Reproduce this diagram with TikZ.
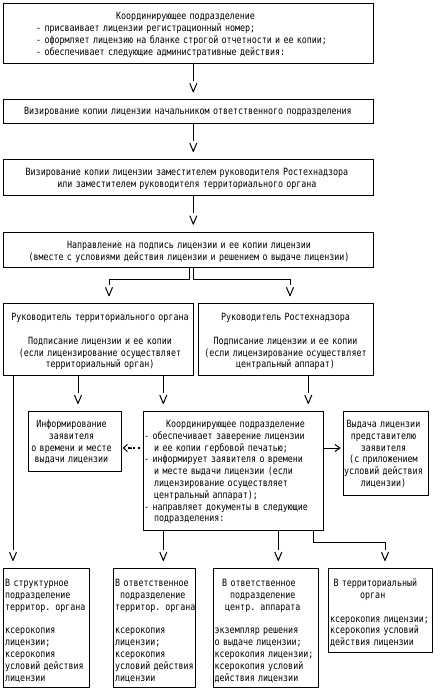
\documentclass[tikz,border=0pt]{standalone}
\usepackage{fontspec}
\newfontfamily\pxfont[FakeStretch=0.833]{DejaVu Sans Mono}
\usetikzlibrary{arrows.meta}
\pgfdeclarearrow{
  name = GapV,
  parameters = {\the\pgfarrowlength,\the\pgfarrowwidth},
  setup code = {
    \pgfarrowssettipend{0pt}
    \pgfarrowssetbackend{-\pgfarrowlength}
    \pgfarrowssetlineend{\dimexpr-\pgfarrowlength-2.5pt\relax}
    \pgfarrowssavethe\pgfarrowlength
    \pgfarrowssavethe\pgfarrowwidth
  },
  drawing code = {
    \pgfsetroundjoin
    \pgfsetbuttcap
    \pgfsetdash{}{0pt}
    \pgfpathmoveto{\pgfqpoint{-\pgfarrowlength}{.5\pgfarrowwidth}}
    \pgfpathlineto{\pgfpointorigin}
    \pgfpathlineto{\pgfqpoint{-\pgfarrowlength}{-.5\pgfarrowwidth}}
    \pgfusepathqstroke
  },
  defaults = {length=8.5pt, width=7pt}
}
\begin{document}
\begin{tikzpicture}[x=1pt,y=-1pt,
  box/.style={draw, line width=1pt, inner sep=0pt, anchor=north west},
  txt/.style={font=\pxfont\fontsize{10pt}{11.8pt}\selectfont, inner sep=0pt},
  arr/.style={draw, line width=1pt, -{GapV[length=8.5pt,width=7pt]},
    shorten >=7.5pt},
  dotarr/.style={draw, line width=1.5pt, dash pattern=on 1.5pt off 3.5pt,
    -{Butt Cap[sep=2pt]Straight Barb[length=4pt,width=7pt,line width=1pt]},
    shorten <=3.5pt, shorten >=1pt},
  rarr/.style={draw, line width=1pt,
    -{Straight Barb[length=5pt,width=7pt,line width=1pt]},
    shorten >=2.5pt}]
\fill[white] (0,0) rectangle (442,697);
\useasboundingbox (0,0) rectangle (442,697);

% boxes
\node[box, minimum width=370pt, minimum height=60pt] (b1) at (3.3,3.3) {};
\node[box, minimum width=370pt, minimum height=24pt] (b2) at (3.3,99.3) {};
\node[box, minimum width=370pt, minimum height=36pt] (b3) at (3.3,159) {};
\node[box, minimum width=370pt, minimum height=35pt] (b4) at (3.3,231.7) {};
\node[box, minimum width=190pt, minimum height=71.7pt] (b5) at (3.3,303.3) {};
\node[box, minimum width=175pt, minimum height=71.7pt] (b6) at (198.3,303.3) {};
\node[box, minimum width=92.4pt, minimum height=60pt] (inf) at (28.3,411) {};
\node[box, minimum width=180pt, minimum height=119pt] (cb) at (143.3,411) {};
\node[box, minimum width=85pt, minimum height=84pt] (rb) at (343.3,411) {};
\node[box, minimum width=85.4pt, minimum height=119pt] (A) at (3.3,568) {};
\node[box, minimum width=81.7pt, minimum height=119pt] (B) at (113.3,568) {};
\node[box, minimum width=105pt, minimum height=119pt] (C) at (213.3,568) {};
\node[box, minimum width=103.4pt, minimum height=84pt] (D) at (328.3,568) {};

% texts
\node[txt, anchor=north west, text width=335pt, align=left] (t1) at (36,10.5)
 {\rule{0pt}{9pt}\hspace*{80pt}Координирующее подразделение\\
  - присваивает лицензии регистрационный номер;\\
  - оформляет лицензию на бланке строгой отчетности и ее копии;\\
  - обеспечивает следующие административные действия:};
\node[txt, anchor=north, text width=360pt, align=center] (t2) at (188,105.3)
 {\rule{0pt}{9pt}Визирование копии лицензии начальником ответственного подразделения};
\node[txt, anchor=north, text width=360pt, align=center] (t3) at (187,166.6)
 {\rule{0pt}{9pt}Визирование копии лицензии заместителем руководителя Ростехнадзора\\
  или заместителем руководителя территориального органа};
\node[txt, anchor=north, text width=360pt, align=center] (t4) at (189,239)
 {\rule{0pt}{9pt}Направление на подпись лицензии и ее копии лицензии\\
  (вместе с условиями действия лицензии и решением о выдаче лицензии)};
\node[txt, anchor=north, text width=185pt, align=center] (t5) at (100,311.5)
 {\rule{0pt}{9pt}Руководитель территориального органа\\ \mbox{}\\
  Подписание лицензии и ее копии\\
  (если лицензирование осуществляет\\
  территориальный орган)};
\node[txt, anchor=north, text width=172pt, align=center] (t6) at (285.5,311.5)
 {\rule{0pt}{9pt}Руководитель Ростехнадзора\\ \mbox{}\\
  Подписание лицензии и ее копии\\
  (если лицензирование осуществляет\\
  центральный аппарат)};
\node[txt, anchor=north, text width=90pt, align=center] (t7) at (71.5,418.3)
 {\rule{0pt}{9pt}Информирование\\ заявителя\\ о времени и месте\\ выдачи лицензии};
\node[txt, anchor=north west, text width=178pt, align=left] (t8) at (144,418.3)
 {\rule{0pt}{9pt}\hspace*{22pt}Координирующее подразделение\\
  - обеспечивает заверение лицензии\\
  \hspace*{10pt}и ее копии гербовой печатью;\\
  - информирует заявителя о времени\\
  \hspace*{10pt}и месте выдачи лицензии (если\\
  \hspace*{10pt}лицензирование осуществляет\\
  \hspace*{10pt}центральный аппарат);\\
  - направляет документы в следующие\\
  \hspace*{10pt}подразделения:};
\node[txt, anchor=north, text width=84pt, align=center] (t9) at (383.5,418.3)
 {\rule{0pt}{9pt}Выдача лицензии\\ представителю\\ заявителя\\ (с приложением\\
  условий действия\\ лицензии)};
\node[txt, anchor=north west, text width=84pt, align=left] (tA) at (5,577.5)
 {\rule{0pt}{9pt}В структурное\\ подразделение\\ территор. органа\\ \mbox{}\\
  ксерокопия\\ лицензии;\\ ксерокопия\\ условий действия\\ лицензии};
\node[txt, anchor=north west, text width=82pt, align=left] (tB) at (115,577.5)
 {\rule{0pt}{9pt}В ответственное\\ \hspace*{5pt}подразделение\\ территор. органа\\ \mbox{}\\
  ксерокопия\\ лицензии;\\ ксерокопия\\ условий действия\\ лицензии};
\node[txt, anchor=north west, text width=103pt, align=left] (tC) at (214.5,577.5)
 {\rule{0pt}{9pt}\hspace*{7.5pt}В ответственное\\ \hspace*{15.5pt}подразделение\\
  \hspace*{10.5pt}центр. аппарата\\ \mbox{}\\
  экземпляр решения\\ о выдаче лицензии;\\ ксерокопия лицензии;\\
  ксерокопия условий\\ действия лицензии};
\node[txt, anchor=north west, text width=102pt, align=left] (tD) at (330,577.5)
 {\rule{0pt}{9pt}\hspace*{3.3pt}В территориальный\\ \hspace*{30pt}орган\\ \mbox{}\\
  ксерокопия лицензии;\\ ксерокопия условий\\ действия лицензии};

% helper coordinates
\coordinate (x0) at (193.3,0);
\coordinate (xL) at (189,0);
\coordinate (xLL) at (109,0);
\coordinate (xRR) at (290,0);
\coordinate (xa) at (13,0);
\coordinate (xb) at (78,0);
\coordinate (xc) at (163.3,0);
\coordinate (xd) at (308.3,0);
\coordinate (xe) at (278.3,0);
\coordinate (xf) at (313.3,0);
\coordinate (xg) at (385,0);
\coordinate (y1) at (0,279.3);
\coordinate (y2) at (0,542.7);
\coordinate (yh) at (0,448);

% connectors
\draw[arr] (b1.south -| x0) -- (b2.north -| x0);
\draw[arr] (b2.south -| x0) -- (b3.north -| x0);
\draw[arr] (b3.south -| x0) -- (b4.north -| x0);
\draw[arr] (b4.south -| xL) |- (xLL |- y1) -- (b5.north -| xLL);
\draw[arr] (b4.south -| x0) |- (xRR |- y1) -- (b6.north -| xRR);
\draw[arr] (b5.south -| xa) -- (A.north -| xa);
\draw[arr] (b5.south -| xb) -- (inf.north -| xb);
\draw[arr] (b5.south -| xc) -- (cb.north -| xc);
\draw[arr] (b6.south -| xd) -- (cb.north -| xd);
\draw[arr] (cb.south -| xc) -- (B.north -| xc);
\draw[arr] (cb.south -| xe) -- (C.north -| xe);
\draw[arr] (cb.south -| xf) |- (xg |- y2) -- (D.north -| xg);
\draw[dotarr] (cb.west |- yh) -- (inf.east |- yh);
\draw[rarr] (cb.east |- yh) -- (rb.west |- yh);
\end{tikzpicture}
\end{document}
